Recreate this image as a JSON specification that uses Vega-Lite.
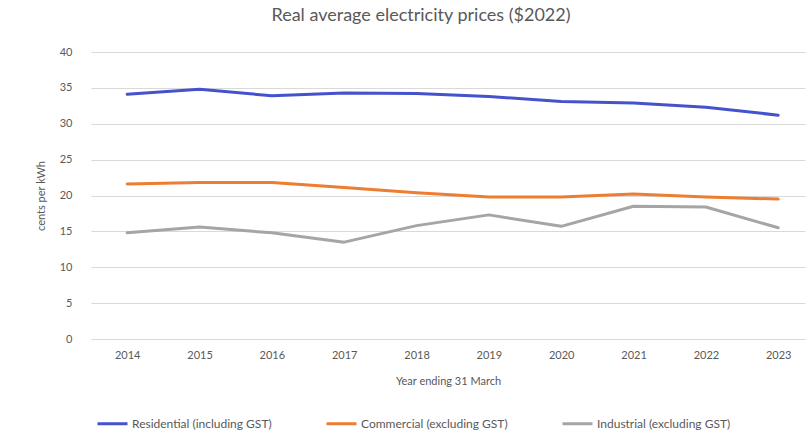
{
  "$schema": "https://vega.github.io/schema/vega-lite/v6.json",
  "width": 714,
  "height": 287,
  "autosize": "none",
  "padding": {"left": 91, "top": 52, "right": 2, "bottom": 95},
  "background": "white",
  "config": {
    "font": "Lato",
    "view": {"stroke": null}
  },
  "title": {
    "text": "Real average electricity prices ($2022)",
    "fontSize": 18,
    "fontWeight": "normal",
    "color": "#595959",
    "font": "Lato",
    "anchor": "middle",
    "dx": -27,
    "offset": 21
  },
  "data": {
    "values": [
      {"year": 2014, "series": "Residential (including GST)", "value": 34.1},
      {"year": 2015, "series": "Residential (including GST)", "value": 34.8},
      {"year": 2016, "series": "Residential (including GST)", "value": 33.9},
      {"year": 2017, "series": "Residential (including GST)", "value": 34.3},
      {"year": 2018, "series": "Residential (including GST)", "value": 34.2},
      {"year": 2019, "series": "Residential (including GST)", "value": 33.8},
      {"year": 2020, "series": "Residential (including GST)", "value": 33.1},
      {"year": 2021, "series": "Residential (including GST)", "value": 32.9},
      {"year": 2022, "series": "Residential (including GST)", "value": 32.3},
      {"year": 2023, "series": "Residential (including GST)", "value": 31.2},
      {"year": 2014, "series": "Commercial (excluding GST)", "value": 21.6},
      {"year": 2015, "series": "Commercial (excluding GST)", "value": 21.8},
      {"year": 2016, "series": "Commercial (excluding GST)", "value": 21.8},
      {"year": 2017, "series": "Commercial (excluding GST)", "value": 21.1},
      {"year": 2018, "series": "Commercial (excluding GST)", "value": 20.4},
      {"year": 2019, "series": "Commercial (excluding GST)", "value": 19.8},
      {"year": 2020, "series": "Commercial (excluding GST)", "value": 19.8},
      {"year": 2021, "series": "Commercial (excluding GST)", "value": 20.2},
      {"year": 2022, "series": "Commercial (excluding GST)", "value": 19.8},
      {"year": 2023, "series": "Commercial (excluding GST)", "value": 19.5},
      {"year": 2014, "series": "Industrial (excluding GST)", "value": 14.8},
      {"year": 2015, "series": "Industrial (excluding GST)", "value": 15.6},
      {"year": 2016, "series": "Industrial (excluding GST)", "value": 14.8},
      {"year": 2017, "series": "Industrial (excluding GST)", "value": 13.5},
      {"year": 2018, "series": "Industrial (excluding GST)", "value": 15.8},
      {"year": 2019, "series": "Industrial (excluding GST)", "value": 17.3},
      {"year": 2020, "series": "Industrial (excluding GST)", "value": 15.7},
      {"year": 2021, "series": "Industrial (excluding GST)", "value": 18.5},
      {"year": 2022, "series": "Industrial (excluding GST)", "value": 18.4},
      {"year": 2023, "series": "Industrial (excluding GST)", "value": 15.5}
    ]
  },
  "mark": {"type": "line", "strokeWidth": 3, "strokeCap": "round", "strokeJoin": "round"},
  "encoding": {
    "x": {
      "field": "year",
      "type": "quantitative",
      "scale": {"domain": [2013.5, 2023.37], "nice": false, "zero": false},
      "axis": {
        "values": [2014, 2015, 2016, 2017, 2018, 2019, 2020, 2021, 2022, 2023],
        "format": "d",
        "title": "Year ending 31 March",
        "grid": false,
        "domain": false,
        "ticks": false,
        "labelPadding": 10,
        "labelFontSize": 11,
        "labelColor": "#595959",
        "labelFont": "Lato",
        "titleFont": "Lato",
        "titleFontSize": 11,
        "titleFontWeight": "normal",
        "titleColor": "#595959",
        "titlePadding": 15
      }
    },
    "y": {
      "field": "value",
      "type": "quantitative",
      "scale": {"domain": [0, 40], "nice": false},
      "axis": {
        "values": [0, 5, 10, 15, 20, 25, 30, 35, 40],
        "title": "cents per kWh",
        "grid": true,
        "gridColor": "#D9D9D9",
        "gridWidth": 1,
        "domain": false,
        "ticks": false,
        "labelPadding": 19,
        "labelFontSize": 11,
        "labelColor": "#595959",
        "labelFont": "Lato",
        "titleFont": "Lato",
        "titleFontSize": 11,
        "titleFontWeight": "normal",
        "titleColor": "#595959",
        "titlePadding": 13
      }
    },
    "color": {
      "field": "series",
      "type": "nominal",
      "scale": {
        "domain": ["Residential (including GST)", "Commercial (excluding GST)", "Industrial (excluding GST)"],
        "range": ["#4452CC", "#ED7D31", "#A5A5A5"]
      },
      "legend": {
        "title": null,
        "orient": "none",
        "direction": "horizontal",
        "legendX": 5,
        "legendY": 355,
        "symbolType": "stroke",
        "symbolSize": 900,
        "symbolStrokeWidth": 3,
        "labelFontSize": 12,
        "labelColor": "#595959",
        "labelFont": "Lato",
        "labelOffset": 3,
        "columnPadding": 48
      }
    }
  }
}
